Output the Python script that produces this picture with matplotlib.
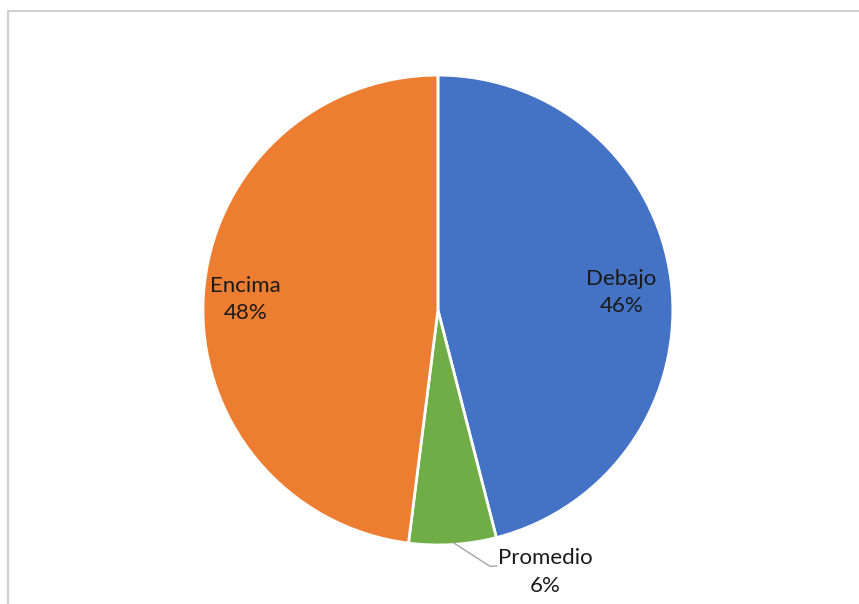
import matplotlib.pyplot as plt
from matplotlib.lines import Line2D

labels = ["Debajo", "Promedio", "Encima"]
values = [46, 6, 48]
colors = ["#4472C4", "#70AD47", "#ED7D31"]

# label positions (in radius units)
label_pos = [(0.78, 0.075), (0.455, -1.115), (-0.82, 0.045)]

plt.rcParams['font.family'] = ['Lato', 'DejaVu Sans']

fig = plt.figure(figsize=(8.59, 6.04), dpi=100)
ax = fig.add_axes([0.2363, 0.0977, 0.547, 0.778])
ax.pie(values, colors=colors, startangle=90, counterclock=False,
       wedgeprops=dict(edgecolor="white", linewidth=2))
ax.set_xlim(-1, 1)
ax.set_ylim(-1, 1)
ax.set_aspect("equal")

total = sum(values)
for (x, y), name, v in zip(label_pos, labels, values):
    ax.text(x, y, f"{name}\n{round(100 * v / total)}%", ha="center", va="center",
            fontsize=16, color="#1a1a1a", linespacing=1.45)

# leader line for the small slice
ax.plot([0.065, 0.22, 0.25], [-0.99, -1.09, -1.09], color="#A6A6A6",
        linewidth=1, clip_on=False)

# chart frame (only top and left visible in the crop)
fig.add_artist(Line2D([8 / 859, 1], [1 - 11 / 604, 1 - 11 / 604], color="#D0D0D0", linewidth=1.5))
fig.add_artist(Line2D([8 / 859, 8 / 859], [0, 1 - 11 / 604], color="#D0D0D0", linewidth=1.5))

fig.savefig("out.png", dpi=100)
